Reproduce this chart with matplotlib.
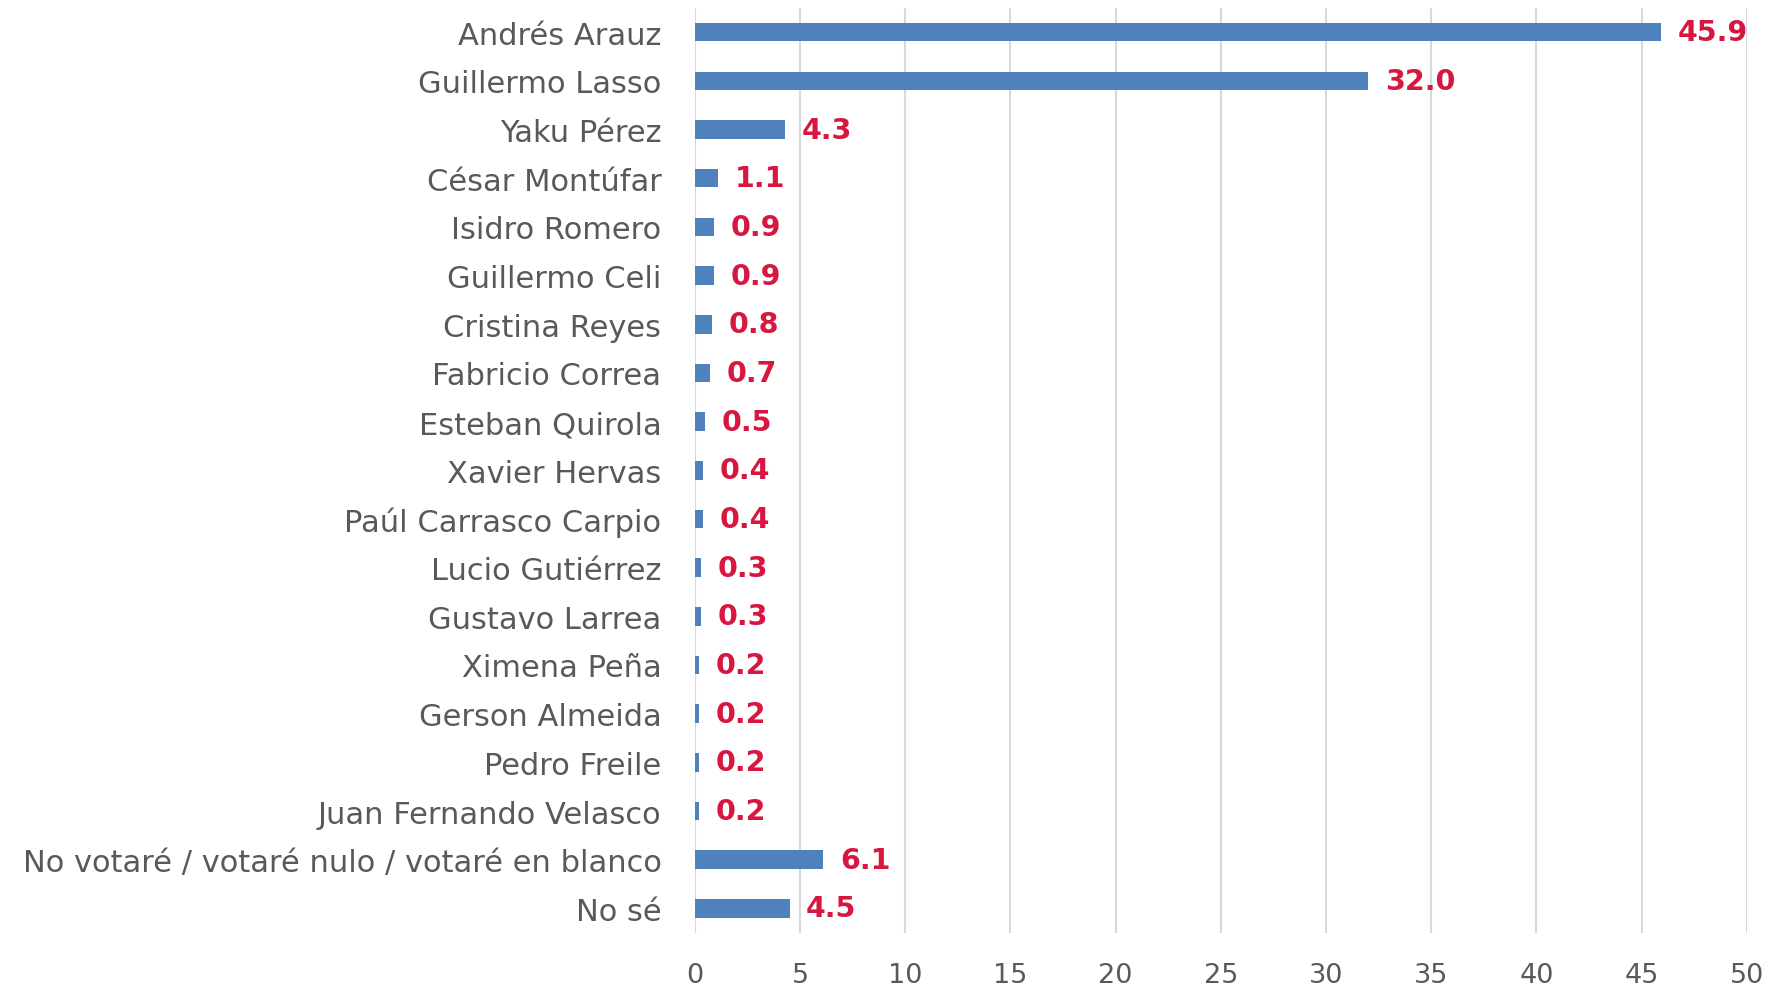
import matplotlib.pyplot as plt

candidatos = ["Andrés Arauz", "Guillermo Lasso", "Yaku Pérez", "César Montúfar",
              "Isidro Romero", "Guillermo Celi", "Cristina Reyes", "Fabricio Correa",
              "Esteban Quirola", "Xavier Hervas", "Paúl Carrasco Carpio",
              "Lucio Gutiérrez", "Gustavo Larrea", "Ximena Peña", "Gerson Almeida",
              "Pedro Freile", "Juan Fernando Velasco",
              "No votaré / votaré nulo / votaré en blanco", "No sé"]
valores = [45.9, 32.0, 4.3, 1.1, 0.9, 0.9, 0.8, 0.7, 0.5, 0.4, 0.4, 0.3, 0.3,
           0.2, 0.2, 0.2, 0.2, 6.1, 4.5]
xticks = [0, 5, 10, 15, 20, 25, 30, 35, 40, 45, 50]

plt.rcParams['font.family'] = ['DejaVu Sans']

fig = plt.figure(figsize=(17.68, 9.87), dpi=100)
ax = fig.add_axes([0.393, 0.054, 0.595, 0.937])

pos = list(range(len(candidatos)))
ax.barh(pos, valores, height=0.38, color="#4F81BD", zorder=3)
for p, v in zip(pos, valores):
    ax.annotate(f"{v:.1f}", (v, p), xytext=(12, 0), textcoords="offset points",
                va="center", ha="left", fontsize=20.5, fontweight="bold",
                color="#D7173F")

ax.set_ylim(len(candidatos) - 0.5, -0.5)
ax.set_xlim(0, 50)
ax.set_yticks(pos)
ax.set_yticklabels(candidatos, fontsize=22, color="#595959")
ax.set_xticks(xticks)
ax.set_xticklabels([str(t) for t in xticks], fontsize=19.5, color="#595959")
ax.tick_params(length=0)
ax.tick_params(axis="y", pad=24)
ax.tick_params(axis="x", pad=21)
ax.grid(axis="x", color="#D9D9D9", linewidth=1.5, zorder=0)
for s in ax.spines.values():
    s.set_visible(False)

fig.savefig("out.png", dpi=100)
